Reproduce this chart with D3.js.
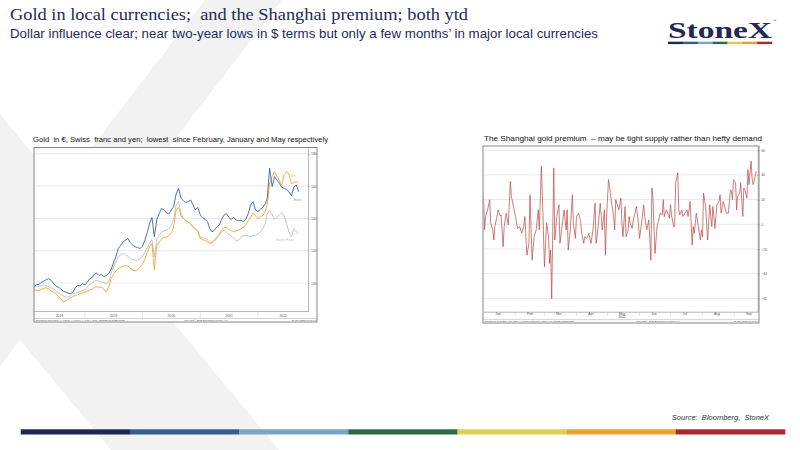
<!DOCTYPE html>
<html>
<head>
<meta charset="utf-8">
<script src="https://cdn.jsdelivr.net/npm/d3@7"></script>
<style>
  body { margin: 0; background: #fff; }
  svg { display: block; }
  svg text { white-space: pre; }
</style>
</head>
<body>
<svg id="slide" width="800" height="450"></svg>
<script>
// ─── Data ───

// Gold in local currencies, indexed, sampled on the 1st and 16th of each month (Feb 2018 .. Sep 2022)
var goldMonths = d3.timeMonth.range(new Date(2018, 1, 1), new Date(2022, 9, 1));
var goldDates = [];
goldMonths.forEach(function(m) {
  goldDates.push(m);
  goldDates.push(new Date(m.getFullYear(), m.getMonth(), 16));
});

var euro = [
  98.5, 98.1, 99.0, 99.2, 100.4, 101.2, 102.1, 102.7, 101.7, 100.0, 98.3, 97.5, 96.5, 95.0, 94.4, 93.8, 93.4, 94.2, 97.1, 98.5, 98.3, 99.6,
  99.0, 100.4, 102.7, 103.3, 105.4, 106.2, 104.6, 105.4, 104.1, 104.6, 105.8, 108.3, 112.4, 116.2, 121.4, 123.4, 125.5, 126.5, 127.6, 124.9, 123.4, 122.4, 122.0, 121.4,
  122.8, 126.5, 131.7, 137.3, 140.6, 128.6, 139.4, 143.1, 146.2, 145.2, 143.5, 142.7, 145.2, 147.3, 155.1, 158.7, 152.4, 151.0, 149.8, 150.4, 151.4, 148.3, 145.2, 146.9,
  142.1, 140.6, 139.4, 137.9, 133.8, 131.7, 132.8, 134.8, 135.9, 139.4, 142.1, 143.1, 140.6, 139.4, 140.6, 139.0, 138.6, 139.0, 137.9, 139.4, 143.1, 148.3, 150.4, 145.2,
  144.2, 145.6, 146.9, 148.9, 152.4, 171.1, 159.7, 165.9, 163.8, 161.8, 159.3, 158.7, 158.0, 156.6, 153.9, 159.3, 160.7, 156.6
];
var yen = [
  96.3, 95.9, 95.6, 95.4, 96.1, 96.7, 97.1, 96.3, 95.2, 94.4, 93.4, 91.9, 90.3, 88.4, 88.8, 90.0, 90.9, 91.7, 92.3, 92.7, 93.4, 93.8,
  94.2, 95.0, 95.6, 96.3, 97.3, 97.7, 97.3, 97.5, 96.3, 94.4, 97.5, 102.7, 105.4, 107.5, 108.9, 109.7, 110.4, 110.8, 110.6, 109.1, 107.9, 107.5, 108.3, 109.7,
  112.0, 114.9, 119.3, 122.8, 124.5, 108.3, 123.4, 125.5, 127.4, 128.2, 128.6, 129.4, 131.1, 134.8, 145.2, 146.9, 141.5, 139.8, 138.6, 137.7, 136.5, 134.8, 133.6, 132.3,
  127.6, 126.9, 126.3, 125.5, 124.5, 125.3, 126.9, 128.6, 130.3, 132.8, 134.4, 134.4, 133.2, 132.3, 131.7, 132.3, 132.8, 133.6, 134.4, 135.9, 138.6, 140.6, 143.5, 141.5,
  140.0, 141.0, 141.9, 144.2, 148.9, 161.8, 165.9, 169.0, 166.3, 163.4, 160.7, 167.0, 169.0, 167.6, 161.4, 162.2, 162.8, 161.8
];
var swiss = [
  97.5, 97.5, 97.9, 98.1, 98.5, 98.8, 98.3, 97.9, 97.1, 96.5, 95.4, 94.2, 93.0, 92.1, 91.3, 91.3, 92.1, 93.4, 93.8, 94.2, 94.8, 95.2,
  95.9, 97.5, 99.2, 100.0, 101.0, 101.7, 101.2, 100.6, 100.4, 99.6, 100.6, 105.8, 110.0, 113.1, 116.2, 117.4, 118.2, 117.8, 116.6, 115.1, 114.5, 114.1, 114.3, 114.9,
  116.6, 119.1, 122.0, 124.9, 126.9, 116.2, 127.4, 129.6, 131.5, 132.3, 132.8, 133.6, 136.1, 139.0, 148.3, 150.4, 143.1, 140.0, 138.6, 137.7, 136.5, 134.4, 133.2, 131.7,
  128.6, 128.2, 127.6, 126.5, 125.3, 124.5, 126.1, 127.6, 129.6, 131.7, 132.8, 131.1, 130.3, 129.0, 128.2, 126.1, 126.5, 128.6, 129.4, 129.6, 129.0, 128.6, 129.4, 129.6,
  130.3, 131.7, 133.8, 136.5, 142.7, 145.2, 142.1, 139.4, 140.6, 142.1, 143.5, 141.5, 136.9, 131.7, 128.6, 133.6, 131.7, 130.3
];
var goldTicks = [100, 120, 140, 160, 180];
var goldYears = [2018, 2019, 2020, 2021, 2022];

// Shanghai premium, 2022 (days after 1 Jan, $/oz)
var premiumDays = [
  0, 1, 2, 4, 6, 7, 9, 10, 11, 13, 14, 16, 17, 19, 20, 22, 24, 26, 27, 29,
  31, 33, 35, 37, 39, 40, 42, 44, 45, 47, 49, 51, 53, 54, 56, 57, 59, 61, 63, 64,
  65, 66, 68, 69, 71, 73, 74, 76, 78, 80, 81, 82, 84, 86, 87, 89, 90, 92, 94, 95,
  97, 98, 100, 102, 104, 106, 108, 109, 111, 113, 115, 117, 118, 119, 121, 122, 124, 126, 127, 128,
  129, 131, 133, 134, 135, 137, 138, 140, 141, 142, 144, 145, 147, 148, 150, 151, 153, 155, 156, 158,
  160, 162, 163, 164, 166, 168, 170, 171, 173, 174, 175, 177, 179, 180, 181, 182, 184, 185, 186, 188,
  189, 190, 192, 193, 195, 197, 198, 200, 202, 203, 204, 206, 207, 208, 210, 211, 212, 213, 215, 217,
  219, 220, 221, 222, 224, 226, 228, 229, 230, 232, 233, 235, 237, 239, 240, 241, 242, 244, 245, 246,
  248, 249, 251, 252, 253, 255, 256, 257, 259, 260, 261, 262, 264
];
var premium = [
  22.6, -4.6, 6.3, 11.7, 19.9, 0.8, -4.6, -12.8, -1.9, 6.3, 11.7, 6.8, 7.6, -18.2, -1.9, 9.0, -0.5, 34.8, 22.6, 14.4,
  6.3, -3.3, -1.9, -7.3, -1.9, 6.3, -25.0, -15.5, 23.9, -29.1, -10.1, -4.6, 11.7, -4.6, 47.1, 22.6, -34.5, 0.8, -10.1, -31.8,
  -20.9, -60.4, 45.7, -12.8, 6.3, 15.8, -15.5, -1.9, 11.7, -4.6, 11.7, -20.9, -4.6, 23.9, 0.8, -11.4, 6.3, 9.0, 2.2, -7.3,
  -15.5, -10.1, -11.4, -7.3, -15.5, -4.6, 17.1, -15.5, -1.9, 17.1, -4.6, 11.7, -25.0, 3.5, 36.2, 30.7, 17.1, 6.3, -4.6, 19.9,
  17.1, 11.7, 21.2, 0.8, -10.1, 14.4, -10.1, -4.6, 6.3, 0.8, -3.3, 3.5, 10.3, 14.4, 0.8, -11.4, 0.8, 15.8, 6.3, -4.6,
  3.5, -29.1, 29.4, 21.2, -23.7, -1.9, 4.9, 9.0, 7.6, 19.9, 6.3, 11.7, 7.6, 4.9, 15.8, 7.6, -1.9, -1.9, 33.5, 41.6,
  11.7, 7.6, 11.7, 6.3, 9.0, 11.7, 6.3, 18.5, -16.9, -1.9, -7.3, 9.0, 3.5, -1.9, -12.8, -4.6, -10.1, 25.3, 14.4, -12.8,
  15.8, 6.3, -1.9, 14.4, -3.3, 15.8, 18.5, 23.9, 9.0, 18.5, 15.8, 9.0, 9.0, 28.0, 26.7, 19.9, 36.2, 33.5, 11.7, 22.6,
  25.3, 33.5, 6.3, 29.4, 28.0, 21.2, 44.3, 32.1, 51.1, 37.5, 32.1, 34.8, 43.0
];
var premiumTicks = [-60, -40, -20, 0, 20, 40, 60];
var monthLabels = ['Jan', 'Feb', 'Mar', 'Apr', 'May', 'Jun', 'Jul', 'Aug', 'Sep'];

var BAR_COLORS = ['#1c2957', '#365c8c', '#79a6c8', '#2d6a4b', '#d9d055', '#e9a232', '#a8292f'];
var NAVY = '#1f2a5a';
var SANS = 'Liberation Sans, Arial, sans-serif';
var SERIF = 'Liberation Serif, Times New Roman, serif';

var svg = d3.select('#slide');

// ─── Slide furniture ───

function drawBackground() {
  svg.append('rect').attr('width', 800).attr('height', 450).attr('fill', '#fff');
  svg.append('polygon').attr('points', '205,0 282,0 0,366 0,266').attr('fill', '#f2f2f2');
  svg.append('polygon').attr('points', '0,114 279,450 111,450 0,316').attr('fill', '#f2f2f2');
}

function drawColourBar(x0, x1, y, h) {
  var xb = d3.scaleBand().domain(d3.range(BAR_COLORS.length)).range([x0, x1]);
  svg.append('g').selectAll('rect').data(BAR_COLORS).join('rect')
    .attr('x', function(d, i) { return xb(i); }).attr('y', y)
    .attr('width', xb.bandwidth() + 0.3).attr('height', h)
    .attr('fill', function(d) { return d; });
}

function drawHeader() {
  svg.append('text').attr('x', 10).attr('y', 20).attr('font-family', SERIF).attr('font-size', 17).attr('fill', NAVY)
    .attr('textLength', 458).attr('lengthAdjust', 'spacingAndGlyphs')
    .text('Gold in local currencies;  and the Shanghai premium; both ytd');
  svg.append('text').attr('x', 10).attr('y', 38).attr('font-family', SANS).attr('font-size', 13).attr('fill', NAVY)
    .attr('textLength', 588).attr('lengthAdjust', 'spacingAndGlyphs')
    .text('Dollar influence clear; near two-year lows in $ terms but only a few months\u2019 in major local currencies');
  // logo
  svg.append('text').attr('x', 668).attr('y', 38).attr('font-family', SERIF).attr('font-weight', 700).attr('font-size', 24).attr('fill', NAVY)
    .attr('textLength', 104).attr('lengthAdjust', 'spacingAndGlyphs').text('StoneX');
  svg.append('text').attr('x', 773).attr('y', 22).attr('font-family', SANS).attr('font-size', 3.5).attr('fill', NAVY).text('\u2122');
  drawColourBar(668, 772, 41.7, 2.4);
  // source + bottom bar
  svg.append('text').attr('x', 769).attr('y', 420).attr('text-anchor', 'end').attr('font-family', SANS).attr('font-style', 'italic')
    .attr('font-size', 7.5).attr('fill', '#333').text('Source:  Bloomberg,  StoneX');
  drawColourBar(20.7, 785, 429.3, 5.2);
}

function tinyText(g, x, y, txt, anchor, color) {
  return g.append('text').attr('x', x).attr('y', y).attr('text-anchor', anchor || 'start')
    .attr('font-family', SANS).attr('font-size', 3.4).attr('fill', color || '#555').text(txt);
}

// ─── Gold in local currencies ───

function drawGoldChart() {
  var box = { left: 34, right: 317, top: 147.5, bottom: 322 };
  var p = { left: 34, right: 308, top: 148, bottom: 311 };
  var g = svg.append('g');

  svg.append('text').attr('x', 33).attr('y', 141.5).attr('font-family', SANS).attr('font-size', 7.6).attr('fill', '#111')
    .attr('textLength', 295).attr('lengthAdjust', 'spacingAndGlyphs')
    .text('Gold  in \u20ac, Swiss  franc and yen;  lowest  since February, January and May respectively');

  g.append('rect').attr('x', box.left).attr('y', box.top).attr('width', box.right - box.left).attr('height', box.bottom - box.top).attr('fill', '#fff');

  var x = d3.scaleTime().domain([new Date(2018, 1, 13), new Date(2022, 10, 14)]).range([p.left, p.right]);
  var y = d3.scaleLinear().domain([82.7, 183.6]).range([p.bottom, p.top]);

  g.selectAll('line.grid').data(goldTicks).join('line').attr('class', 'grid')
    .attr('x1', p.left).attr('x2', p.right).attr('y1', y).attr('y2', y)
    .attr('stroke', '#e2e2e2').attr('stroke-width', 0.8);

  // right value axis
  var ay = g.append('g').attr('transform', 'translate(' + p.right + ',0)')
    .call(d3.axisRight(y).tickValues(goldTicks).tickSize(2).tickSizeOuter(0).tickPadding(1));
  ay.select('.domain').attr('stroke', '#999').attr('stroke-width', 0.7);
  ay.selectAll('line').attr('stroke', '#888').attr('stroke-width', 0.5);
  ay.selectAll('text').attr('font-size', 3.4).attr('font-family', SANS).attr('fill', '#555');

  // time axis
  var ax = g.append('g').attr('transform', 'translate(0,' + p.bottom + ')')
    .call(d3.axisBottom(x).ticks(d3.timeMonth.every(1)).tickSize(1).tickSizeOuter(0).tickFormat(''));
  ax.select('.domain').attr('stroke', '#999').attr('stroke-width', 0.7);
  ax.selectAll('line').attr('stroke', '#aaa').attr('stroke-width', 0.4);

  var d0 = x.domain()[0], d1 = x.domain()[1];
  goldYears.forEach(function(yr) {
    var s = new Date(yr, 0, 1), e = new Date(yr + 1, 0, 1);
    if (s > d0) g.append('line').attr('x1', x(s)).attr('x2', x(s)).attr('y1', p.bottom).attr('y2', 318.5).attr('stroke', '#ccc').attr('stroke-width', 0.5);
    var cx = (x(s > d0 ? s : d0) + x(e < d1 ? e : d1)) / 2;
    tinyText(g, cx, 317, String(yr), 'middle');
  });

  // footer strip
  g.append('line').attr('x1', box.left).attr('x2', box.right).attr('y1', 318.5).attr('y2', 318.5).attr('stroke', '#aaa').attr('stroke-width', 0.5);
  g.append('text').attr('x', 35.5).attr('y', 321.2).attr('font-family', SANS).attr('font-size', 2.4).attr('fill', '#555')
    .text('Bloomberg Gold Spot  XAUEUR, XAUCHF, XAUJPY  Daily 13FEB2018-21SEP2022');
  g.append('text').attr('x', 206).attr('y', 321.2).attr('text-anchor', 'middle').attr('font-family', SANS).attr('font-size', 2.4).attr('fill', '#555')
    .text('Copyright\u00a9 2022 Bloomberg Finance L.P.');
  g.append('text').attr('x', 315.5).attr('y', 321.2).attr('text-anchor', 'end').attr('font-family', SANS).attr('font-size', 2.4).attr('fill', '#555')
    .text('21-Sep-2022 10:07:42');

  svg.append('clipPath').attr('id', 'clip-gold').append('rect')
    .attr('x', p.left).attr('y', p.top).attr('width', p.right - p.left).attr('height', p.bottom - p.top);

  var line = d3.line().x(function(d, i) { return x(goldDates[i]); }).y(function(d) { return y(d); });
  var series = [
    { values: swiss, color: '#b9c0ca' },
    { values: yen, color: '#f6a623' },
    { values: euro, color: '#3e62a0' }
  ];
  var lines = g.append('g').attr('clip-path', 'url(#clip-gold)');
  series.forEach(function(s) {
    lines.append('path').attr('d', line(s.values)).attr('fill', 'none')
      .attr('stroke', s.color).attr('stroke-width', 0.9).attr('stroke-linejoin', 'round');
  });

  tinyText(g, 290, 177, 'Yen', 'start', '#f3b35a');
  tinyText(g, 294, 200.5, 'Euro', 'start', '#8393b0');
  tinyText(g, 276, 240.5, 'Swiss Franc', 'start', '#bcc1c8');

  g.append('rect').attr('x', box.left).attr('y', box.top).attr('width', box.right - box.left).attr('height', box.bottom - box.top)
    .attr('fill', 'none').attr('stroke', '#7a7a7a').attr('stroke-width', 0.9);
}

// ─── Shanghai premium ───

function drawPremiumChart() {
  var box = { left: 483, right: 759, top: 146, bottom: 323 };
  var p = { left: 483.5, right: 757.7, top: 146, bottom: 311.7 };
  var g = svg.append('g');
  var start = new Date(2022, 0, 1);

  svg.append('text').attr('x', 484).attr('y', 141).attr('font-family', SANS).attr('font-size', 7.6).attr('fill', '#111')
    .attr('textLength', 278).attr('lengthAdjust', 'spacingAndGlyphs')
    .text('The Shanghai gold premium  \u2013 may be tight supply rather than hefty demand');

  g.append('rect').attr('x', box.left).attr('y', box.top).attr('width', box.right - box.left).attr('height', box.bottom - box.top).attr('fill', '#fff');

  var x = d3.scaleTime().domain([start, d3.timeHour.offset(start, Math.round(265.4 * 24))]).range([p.left, p.right]);
  var y = d3.scaleLinear().domain([-70.8, 63.4]).range([p.bottom, p.top]);

  g.selectAll('line.grid').data(premiumTicks).join('line').attr('class', 'grid')
    .attr('x1', p.left).attr('x2', p.right).attr('y1', y).attr('y2', y)
    .attr('stroke', '#e2e2e2').attr('stroke-width', 0.8);

  var ay = g.append('g').attr('transform', 'translate(' + p.right + ',0)')
    .call(d3.axisRight(y).tickValues(premiumTicks).tickSize(2).tickSizeOuter(0).tickPadding(1.5));
  ay.select('.domain').attr('stroke', '#999').attr('stroke-width', 0.7);
  ay.selectAll('line').attr('stroke', '#888').attr('stroke-width', 0.5);
  ay.selectAll('text').attr('font-size', 3.4).attr('font-family', SANS).attr('fill', '#555');
  g.append('g').attr('transform', 'translate(' + p.right + ',0)')
    .call(d3.axisRight(y).ticks(14).tickSize(1).tickSizeOuter(0).tickFormat(''))
    .call(function(a) { a.select('.domain').remove(); a.selectAll('line').attr('stroke', '#aaa').attr('stroke-width', 0.4); });

  var ax = g.append('g').attr('transform', 'translate(0,' + p.bottom + ')')
    .call(d3.axisBottom(x).ticks(d3.timeWeek.every(1)).tickSize(1).tickSizeOuter(0).tickFormat(''));
  ax.select('.domain').attr('stroke', '#999').attr('stroke-width', 0.7);
  ax.selectAll('line').attr('stroke', '#aaa').attr('stroke-width', 0.4);

  monthLabels.forEach(function(m, i) {
    var s = new Date(2022, i, 1);
    if (i > 0) g.append('line').attr('x1', x(s)).attr('x2', x(s)).attr('y1', p.bottom).attr('y2', 315.5).attr('stroke', '#ccc').attr('stroke-width', 0.5);
    tinyText(g, x(new Date(2022, i, 15)), 315, m, 'middle');
  });
  tinyText(g, x(new Date(2022, 4, 15)), 318.4, '2022', 'middle');

  g.append('line').attr('x1', box.left).attr('x2', box.right).attr('y1', 319.6).attr('y2', 319.6).attr('stroke', '#aaa').attr('stroke-width', 0.5);
  g.append('text').attr('x', 484.5).attr('y', 322).attr('font-family', SANS).attr('font-size', 2.4).attr('fill', '#555')
    .text('Bloomberg Gold Spot  SHANGHAI GOLD PREMIUM  Daily 04JAN2022-21SEP2022');
  g.append('text').attr('x', 658).attr('y', 322).attr('text-anchor', 'middle').attr('font-family', SANS).attr('font-size', 2.4).attr('fill', '#555')
    .text('Copyright\u00a9 2022 Bloomberg Finance L.P.');
  g.append('text').attr('x', 757.5).attr('y', 322).attr('text-anchor', 'end').attr('font-family', SANS).attr('font-size', 2.4).attr('fill', '#555')
    .text('21-Sep-2022 10:09:40');

  svg.append('clipPath').attr('id', 'clip-prem').append('rect')
    .attr('x', p.left).attr('y', p.top).attr('width', p.right - p.left).attr('height', p.bottom - p.top);

  var line = d3.line()
    .x(function(d, i) { return x(d3.timeDay.offset(start, premiumDays[i])); })
    .y(function(d) { return y(d); });
  g.append('g').attr('clip-path', 'url(#clip-prem)').append('path')
    .attr('d', line(premium)).attr('fill', 'none')
    .attr('stroke', '#c0504d').attr('stroke-width', 0.75).attr('stroke-linejoin', 'round');

  g.append('rect').attr('x', box.left).attr('y', box.top).attr('width', box.right - box.left).attr('height', box.bottom - box.top)
    .attr('fill', 'none').attr('stroke', '#7a7a7a').attr('stroke-width', 0.9);
}

drawBackground();
drawHeader();
drawGoldChart();
drawPremiumChart();
</script>
</body>
</html>
